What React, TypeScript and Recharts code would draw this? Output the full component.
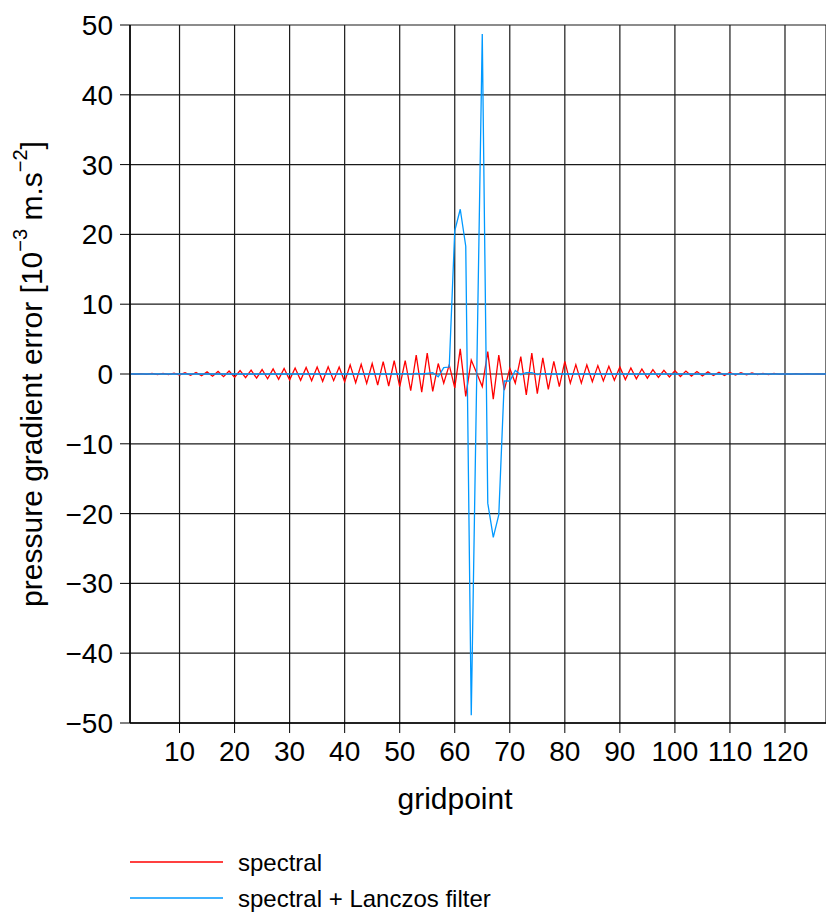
import React from "react";
import { LineChart, Line, XAxis, YAxis, CartesianGrid, Label } from "recharts";

// gridpoint index along the x axis
const gridpoints = Array.from({ length: 128 }, (_, i) => i + 1);

// red: plain spectral pressure gradient error [1e-3 m/s2]
const spectral = [
  0.05, -0.05, 0.06, -0.06, 0.08, -0.08, 0.1, -0.1, 0.12, -0.14,
  0.18, -0.2, 0.22, -0.26, 0.3, -0.32, 0.36, -0.38, 0.42, -0.45,
  0.5, -0.52, 0.56, -0.6, 0.64, -0.68, 0.72, -0.76, 0.8, -0.84,
  0.86, -0.9, 0.94, -0.98, 1.0, -1.05, 1.02, -0.95, 1.0, -1.1,
  1.3, -1.24, 1.4, -1.34, 1.5, -1.58, 1.77, -1.72, 1.9, -1.82,
  1.9, -2.4, 2.7, -2.6, 3.0, -2.5, 1.5, -1.3, 1.3, -2.0,
  3.6, -3.2, 2.0, 0.1, -1.8, 3.2, -3.6, 2.7, -2.3, 0.8,
  -1.3, 2.5, -3.0, 3.0, -2.8, 2.3, -2.2, 1.8, -1.8, 1.8,
  -1.3, 1.34, -1.3, 1.3, -1.1, 1.2, -1.0, 1.1, -0.9, 1.0,
  -0.8, 0.86, -0.7, 0.72, -0.6, 0.62, -0.5, 0.52, -0.42, 0.48,
  -0.36, 0.42, -0.3, 0.36, -0.26, 0.3, -0.22, 0.26, -0.2, 0.22,
  -0.16, 0.18, -0.12, 0.14, -0.1, 0.1, -0.08, 0.08, -0.06, 0.06,
  -0.05, 0.05, -0.04, 0.04, -0.03, 0.03, -0.02, 0.02,
];

// blue: spectral + Lanczos filter
const lanczos = [
  0, 0, 0, 0, 0, 0, 0, 0, 0, 0,
  0, 0, 0, 0, 0, 0, 0, 0, 0, 0,
  0, 0, 0, 0, 0, 0, 0, 0, 0, 0,
  0, 0, 0, 0, 0, 0, 0, 0, 0, 0,
  0, 0, 0, 0, 0, 0, 0, 0, 0, 0,
  0.05, -0.05, 0.1, 0.0, 0.1, 0.2, -0.4, 0.9, 1.0, 20.5,
  23.6, 18.3, -48.9, 0.0, 48.7, -18.5, -23.4, -20.2, -1.0, -1.0,
  0.5, -0.1, 0.2, 0.2, -0.1, 0.05, 0, 0, 0, 0,
  0, 0, 0, 0, 0, 0, 0, 0, 0, 0,
  0, 0, 0, 0, 0, 0, 0, 0, 0, 0,
  0, 0, 0, 0, 0, 0, 0, 0, 0, 0,
  0, 0, 0, 0, 0, 0, 0, 0, 0, 0,
  0, 0, 0, 0, 0, 0, 0, 0,
];

const xTicks = [10, 20, 30, 40, 50, 60, 70, 80, 90, 100, 110, 120];
const yTicks = [-50, -40, -30, -20, -10, 0, 10, 20, 30, 40, 50];

const RED = "#ff0000";
const BLUE = "#0099ff";
const FONT = "'Liberation Sans', Arial, Helvetica, sans-serif";
const FS = 28;
const TITLE_FS = 30;

const data = gridpoints.map((g, i) => ({
  gridpoint: g,
  spectral: spectral[i],
  lanczos: lanczos[i],
}));

const fmtMinus = (v: number) => (v < 0 ? `\u2212${Math.abs(v)}` : `${v}`);

const YTitle = ({ viewBox }: any) => {
  const cx = 31;
  const cy = viewBox.y + viewBox.height / 2;
  return (
    <text
      x={cx}
      y={cy}
      transform={`rotate(-90, ${cx}, ${cy})`}
      textAnchor="middle"
      dominantBaseline="central"
      fontSize={TITLE_FS}
      fill="#000"
      fontFamily={FONT}
    >
      pressure gradient error [10
      <tspan dy={-11} fontSize={20}>
        {"\u22123"}
      </tspan>
      <tspan dy={11}> m.s</tspan>
      <tspan dy={-11} fontSize={20}>
        {"\u22122"}
      </tspan>
      <tspan dy={11}>]</tspan>
    </text>
  );
};

const XTitle = ({ viewBox }: any) => (
  <text
    x={455}
    y={viewBox.y + 86}
    textAnchor="middle"
    fontSize={TITLE_FS}
    fill="#000"
    fontFamily={FONT}
  >
    gridpoint
  </text>
);

export default function App() {
  return (
    <div
      style={{
        position: "absolute",
        left: 0,
        top: 0,
        width: 826,
        height: 912,
        background: "#fff",
        fontFamily: FONT,
        overflow: "hidden",
      }}
    >
      <LineChart
        width={826}
        height={830}
        data={data}
        margin={{ top: 25, right: 0, bottom: 0, left: 0 }}
      >
        <CartesianGrid stroke="#1a1a1a" strokeWidth={1.2} />
        <XAxis
          type="number"
          dataKey="gridpoint"
          domain={[1, 127.45]}
          ticks={xTicks}
          allowDataOverflow
          height={107}
          tickSize={10}
          tickMargin={8}
          tick={{ fill: "#000", fontSize: FS, fontFamily: FONT }}
          axisLine={{ stroke: "#000", strokeWidth: 1.5 }}
          tickLine={{ stroke: "#000" }}
        >
          <Label content={<XTitle />} />
        </XAxis>
        <YAxis
          type="number"
          domain={[-50, 50]}
          ticks={yTicks}
          allowDataOverflow
          width={130}
          tickSize={10}
          tickMargin={7}
          tickFormatter={fmtMinus}
          tick={{ fill: "#000", fontSize: FS, fontFamily: FONT }}
          axisLine={{ stroke: "#000", strokeWidth: 1.5 }}
          tickLine={{ stroke: "#000" }}
        >
          <Label content={<YTitle />} />
        </YAxis>
        <Line
          type="linear"
          dataKey="spectral"
          stroke={RED}
          strokeWidth={1.3}
          dot={false}
          isAnimationActive={false}
        />
        <Line
          type="linear"
          dataKey="lanczos"
          stroke={BLUE}
          strokeWidth={1.3}
          dot={false}
          isAnimationActive={false}
        />
      </LineChart>

      {/* Legend */}
      <svg
        width={826}
        height={82}
        style={{ position: "absolute", left: 0, top: 830 }}
      >
        {[
          { name: "spectral", color: RED, y: 32 },
          { name: "spectral + Lanczos filter", color: BLUE, y: 68 },
        ].map((item) => (
          <g key={item.name}>
            <line
              x1={130}
              x2={223}
              y1={item.y}
              y2={item.y}
              stroke={item.color}
              strokeWidth={1.3}
            />
            <text
              x={238}
              y={item.y}
              dominantBaseline="central"
              fontSize={24}
              fill="#000"
              fontFamily={FONT}
            >
              {item.name}
            </text>
          </g>
        ))}
      </svg>
    </div>
  );
}
